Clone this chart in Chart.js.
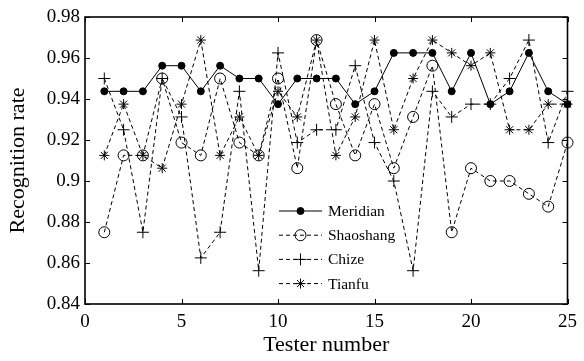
<!DOCTYPE html>
<html>
<head>
<meta charset="utf-8">
<script src="https://cdn.jsdelivr.net/npm/chart.js@4"></script>
<style>
  html, body { margin: 0; padding: 0; background: #fff; }
</style>
</head>
<body>
<canvas id="chart" width="584" height="361"></canvas>
<script>
// tester numbers on the x axis
const testers = [1, 2, 3, 4, 5, 6, 7, 8, 9, 10, 11, 12, 13, 14, 15, 16, 17, 18, 19, 20, 21, 22, 23, 24, 25];

// recognition rate per acupoint
const meridian  = [0.94375, 0.94375, 0.94375, 0.95625, 0.95625, 0.94375, 0.95625, 0.95, 0.95, 0.9375, 0.95, 0.95, 0.95, 0.9375, 0.94375, 0.9625, 0.9625, 0.9625, 0.94375, 0.9625, 0.9375, 0.94375, 0.9625, 0.94375, 0.9375];
const shaoshang = [0.875, 0.9125, 0.9125, 0.95, 0.91875, 0.9125, 0.95, 0.91875, 0.9125, 0.95, 0.90625, 0.96875, 0.9375, 0.9125, 0.9375, 0.90625, 0.93125, 0.95625, 0.875, 0.90625, 0.9, 0.9, 0.89375, 0.8875, 0.91875];
const chize     = [0.95, 0.925, 0.875, 0.95, 0.93125, 0.8625, 0.875, 0.94375, 0.85625, 0.9625, 0.91875, 0.925, 0.925, 0.95625, 0.91875, 0.9, 0.85625, 0.94375, 0.93125, 0.9375, 0.9375, 0.95, 0.96875, 0.91875, 0.94375];
const tianfu    = [0.9125, 0.9375, 0.9125, 0.90625, 0.9375, 0.96875, 0.9125, 0.93125, 0.9125, 0.94375, 0.93125, 0.96875, 0.9125, 0.93125, 0.96875, 0.925, 0.95, 0.96875, 0.9625, 0.95625, 0.9625, 0.925, 0.925, 0.9375, 0.9375];

const xTicks = [0, 5, 10, 15, 20, 25];
const yTicks = [0.84, 0.86, 0.88, 0.9, 0.92, 0.94, 0.96, 0.98];

const SERIF = "'Liberation Serif', 'Times New Roman', serif";

function pts(vals) {
    return testers.map((t, i) => ({ x: t, y: vals[i] }));
}

function series(label, vals, style, radius, dashed, fill) {
    return {
        label: label,
        data: pts(vals),
        borderColor: '#000',
        borderWidth: 1,
        borderDash: dashed ? [4, 3] : [],
        pointStyle: style,
        pointRadius: radius,
        pointHoverRadius: radius,
        pointBorderColor: '#000',
        pointBackgroundColor: fill ? '#000' : 'rgba(0,0,0,0)',
        pointBorderWidth: 1,
        tension: 0,
        clip: false
    };
}

// box + inward ticks on all four sides (MATLAB look)
const boxTicks = {
    id: 'boxTicks',
    afterDatasetsDraw(chart) {
        const { ctx, chartArea: a, scales: { x, y } } = chart;
        ctx.save();
        ctx.strokeStyle = '#000';
        ctx.lineWidth = 1;
        ctx.setLineDash([]);
        ctx.beginPath();
        xTicks.forEach(v => {
            const px = Math.round(x.getPixelForValue(v)) + 0.5;
            ctx.moveTo(px, a.bottom); ctx.lineTo(px, a.bottom - 5);
            ctx.moveTo(px, a.top); ctx.lineTo(px, a.top + 5);
        });
        yTicks.forEach(v => {
            const py = Math.round(y.getPixelForValue(v)) + 0.5;
            ctx.moveTo(a.left, py); ctx.lineTo(a.left + 5, py);
            ctx.moveTo(a.right, py); ctx.lineTo(a.right - 5, py);
        });
        ctx.stroke();
        ctx.lineWidth = 1.6;
        ctx.strokeRect(a.left, a.top, a.right - a.left, a.bottom - a.top);
        ctx.restore();
    }
};

// legend drawn inside the plot area
const innerLegend = {
    id: 'innerLegend',
    afterDraw(chart) {
        const ctx = chart.ctx;
        const x1 = 279, x2 = 322, xm = 300.5, xt = 328;
        ctx.save();
        ctx.font = '15.5px ' + SERIF;
        ctx.textBaseline = 'middle';
        ctx.fillStyle = '#000';
        chart.data.datasets.forEach((ds, i) => {
            const yy = 211 + i * 24.2;
            ctx.strokeStyle = '#000';
            ctx.lineWidth = 1;
            ctx.setLineDash(ds.borderDash);
            ctx.beginPath();
            ctx.moveTo(x1, yy); ctx.lineTo(x2, yy);
            ctx.stroke();
            ctx.setLineDash([]);
            ctx.fillStyle = ds.pointBackgroundColor;
            Chart.helpers.drawPoint(ctx, {
                pointStyle: ds.pointStyle,
                radius: ds.pointRadius,
                rotation: 0,
                borderWidth: 1
            }, xm, yy);
            ctx.fillStyle = '#000';
            ctx.fillText(ds.label, xt, yy + 1);
        });
        ctx.restore();
    }
};

new Chart(document.getElementById('chart'), {
    type: 'line',
    data: {
        datasets: [
            series('Meridian', meridian, 'circle', 3.5, false, true),
            series('Shaoshang', shaoshang, 'circle', 5.5, true, false),
            series('Chize', chize, 'cross', 6, true, false),
            series('Tianfu', tianfu, 'star', 5, true, false)
        ]
    },
    options: {
        responsive: false,
        animation: false,
        layout: { padding: { top: 17, right: 11, left: 0, bottom: 0 } },
        plugins: { legend: { display: false }, tooltip: { enabled: false } },
        scales: {
            x: {
                type: 'linear',
                min: 0,
                max: 25,
                afterBuildTicks: s => { s.ticks = xTicks.map(v => ({ value: v })); },
                afterFit: s => { s.height = 57; },
                grid: { display: false, drawTicks: false },
                border: { display: false },
                ticks: { color: '#000', padding: 7, font: { family: SERIF, size: 19 }, maxRotation: 0 },
                title: { display: true, text: 'Tester number', color: '#000', font: { family: SERIF, size: 22 }, padding: { top: 0, bottom: 3 } }
            },
            y: {
                min: 0.84,
                max: 0.98,
                afterBuildTicks: s => { s.ticks = yTicks.map(v => ({ value: v })); },
                afterFit: s => { s.width = 85; },
                grid: { display: false, drawTicks: false },
                border: { display: false },
                ticks: { color: '#000', padding: 5, font: { family: SERIF, size: 19 }, callback: v => String(Number(v.toFixed(2))) },
                title: { display: true, text: 'Recognition rate', color: '#000', font: { family: SERIF, size: 22 }, padding: { top: 5, bottom: 0 } }
            }
        }
    },
    plugins: [boxTicks, innerLegend]
});
</script>
</body>
</html>
